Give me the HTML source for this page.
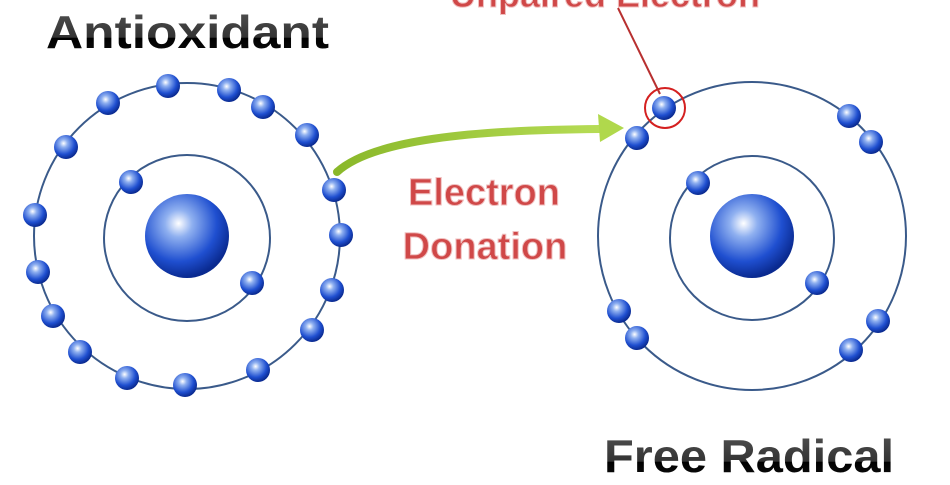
<!DOCTYPE html>
<html><head><meta charset="utf-8"><style>
html,body{margin:0;padding:0;background:#fff;width:950px;height:485px;overflow:hidden}
svg{display:block}
</style></head><body>
<svg width="950" height="485" viewBox="0 0 950 485" xmlns="http://www.w3.org/2000/svg">
<defs>
<radialGradient id="e" cx="0.4" cy="0.35" r="0.65">
<stop offset="0" stop-color="#ffffff"/><stop offset="0.25" stop-color="#8fb0f0"/><stop offset="0.7" stop-color="#1f4fd0"/><stop offset="1" stop-color="#0a2a90"/>
</radialGradient>
<linearGradient id="g" x1="0" y1="0" x2="1" y2="0">
<stop offset="0" stop-color="#8ab82a"/><stop offset="1" stop-color="#b6dc55"/>
</linearGradient>
<linearGradient id="t" x1="0" y1="0" x2="0" y2="1">
<stop offset="0" stop-color="#555"/><stop offset="0.6" stop-color="#333"/><stop offset="0.62" stop-color="#000"/><stop offset="1" stop-color="#111"/>
</linearGradient>
</defs>
<g fill="none" stroke="#3a5a8a" stroke-width="2">
<circle cx="187" cy="236" r="153"/><circle cx="187" cy="238" r="83"/>
<circle cx="752" cy="236" r="154"/><circle cx="752" cy="238" r="82"/>
</g>
<circle cx="187" cy="236" r="42" fill="url(#e)"/>
<circle cx="752" cy="236" r="42" fill="url(#e)"/>
<g fill="url(#e)">
<circle cx="168" cy="86" r="12"/><circle cx="229" cy="90" r="12"/><circle cx="263" cy="107" r="12"/><circle cx="307" cy="135" r="12"/><circle cx="334" cy="190" r="12"/><circle cx="341" cy="235" r="12"/><circle cx="332" cy="290" r="12"/><circle cx="312" cy="330" r="12"/><circle cx="258" cy="370" r="12"/><circle cx="185" cy="385" r="12"/><circle cx="127" cy="378" r="12"/><circle cx="80" cy="352" r="12"/><circle cx="53" cy="316" r="12"/><circle cx="38" cy="272" r="12"/><circle cx="35" cy="215" r="12"/><circle cx="66" cy="147" r="12"/><circle cx="108" cy="103" r="12"/>
<circle cx="131" cy="182" r="12"/><circle cx="252" cy="283" r="12"/>
<circle cx="664" cy="108" r="12"/><circle cx="637" cy="138" r="12"/><circle cx="849" cy="116" r="12"/><circle cx="871" cy="142" r="12"/><circle cx="878" cy="321" r="12"/><circle cx="851" cy="350" r="12"/><circle cx="637" cy="338" r="12"/><circle cx="619" cy="311" r="12"/>
<circle cx="698" cy="183" r="12"/><circle cx="817" cy="283" r="12"/>
</g>
<circle cx="665" cy="108" r="20" fill="none" stroke="#d42020" stroke-width="2"/>
<line x1="618" y1="8" x2="660" y2="94" stroke="#b83030" stroke-width="2"/>
<path d="M337,172 C372,140 470,130 600,129" fill="none" stroke="url(#g)" stroke-width="8" stroke-linecap="round"/>
<polygon points="598,114 624,128 600,142" fill="#b0d84c"/>
<g font-family="Liberation Sans, sans-serif" font-weight="bold" fill="#d04848" stroke="#f0c0c0" stroke-width="1" text-anchor="middle" font-size="38">
<text x="484" y="205">Electron</text>
<text x="485" y="259">Donation</text>
<text x="605" y="7" font-size="36">Unpaired Electron</text>
</g>
<g font-family="Liberation Sans, sans-serif" font-weight="bold" fill="url(#t)" stroke="#fff" stroke-width="3" paint-order="stroke" font-size="46">
<text x="46" y="48" textLength="283" lengthAdjust="spacingAndGlyphs">Antioxidant</text>
<text x="604" y="472" textLength="290" lengthAdjust="spacingAndGlyphs">Free Radical</text>
</g>
</svg>
</body></html>
